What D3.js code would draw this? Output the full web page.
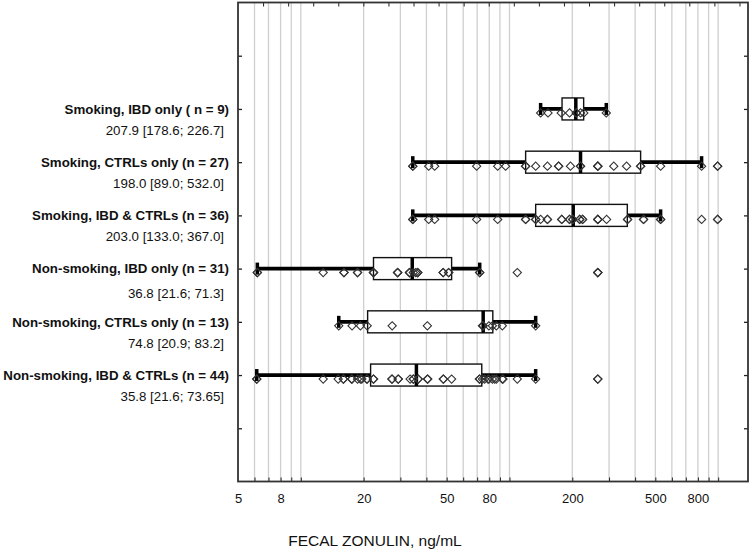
<!DOCTYPE html>
<html>
<head>
<meta charset="utf-8">
<script src="https://cdn.jsdelivr.net/npm/d3@7/dist/d3.min.js"></script>
<style>
    body { margin: 0; background: #fff; }
    .zonulin_chart { width: 750px; height: 549px; }
    text { font-family: "Liberation Sans", Arial, sans-serif; }
</style>
</head>
<body>
<div class="zonulin_chart"></div>
<script>
//<data>--------------------------------------//
var groupNames = [
    "Smoking, IBD only ( n = 9)",
    "Smoking, CTRLs only (n = 27)",
    "Smoking, IBD & CTRLs (n = 36)",
    "Non-smoking, IBD only (n = 31)",
    "Non-smoking, CTRLs only (n = 13)",
    "Non-smoking, IBD & CTRLs (n = 44)"
];
var groupStats = [
    "207.9 [178.6; 226.7]",
    "198.0 [89.0; 532.0]",
    "203.0 [133.0; 367.0]",
    "36.8 [21.6; 71.3]",
    "74.8 [20.9; 83.2]",
    "35.8 [21.6; 73.65]"
];
var whiskerLow = [141, 34.4, 34.4, 6.19, 15.2, 6.15];
var boxQ1 = [178.6, 119.5, 133.5, 22.3, 20.9, 21.6];
var boxMedian = [207.9, 219, 202, 34.2, 74.8, 35.8];
var boxQ3 = [226.7, 425, 367, 52.8, 83.2, 73.65];
var whiskerHigh = [291, 833, 530, 72.0, 133.5, 133.5];

var pointsSmkIbd = [141, 153, 177, 194, 209, 209, 219, 227, 291];
var pointsSmkCtrl = [34.4, 34.4, 41.0, 43.8, 69.6, 87.8, 95.8, 119.5, 119.5, 133.5, 152, 172, 172, 196, 219, 219,
    265, 265, 265, 316, 364, 425, 425, 530, 833, 994, 994];
var pointsSmkAll = [34.4, 34.4, 41.0, 43.8, 69.6, 87.8, 119.5, 119.5, 133.5, 133.5, 141, 152, 152, 178, 178, 194, 194,
    201, 201, 217, 217, 224, 224, 265, 265, 265, 292, 368, 368, 439, 439, 530, 530, 833, 994, 994];
var pointsNonIbd = [6.19, 6.19, 12.8, 16.1, 16.1, 18.7, 18.7, 22.3, 22.3, 22.3, 29.1, 29.1, 29.1, 33.2, 33.2, 33.2,
    34.6, 35.5, 36.3, 36.3, 36.3, 48.1, 48.1, 51.1, 51.1, 72.0, 72.0, 109, 265, 265, 265];
var pointsNonCtrl = [15.2, 17.6, 19.3, 20.8, 27.4, 40.4, 74.2, 74.8, 79.7, 82.8, 86.5, 92.4, 133.5];
var pointsNonAll = [6.15, 6.15, 12.8, 15.1, 16.0, 16.0, 17.5, 17.6, 18.7, 19.3, 19.6, 20.7, 20.8, 22.3, 22.3, 27.3,
    27.4, 29.3, 29.3, 33.4, 34.6, 34.6, 36.5, 36.5, 40.4, 40.6, 48.2, 48.2, 52.8, 71.7, 72.0, 74.2, 76.0, 78.9,
    79.7, 82.8, 84.9, 86.5, 92.4, 93.1, 109, 133.5, 265, 265];
var groupPoints = [pointsSmkIbd, pointsSmkCtrl, pointsSmkAll, pointsNonIbd, pointsNonCtrl, pointsNonAll];

var gridValues = [6, 7, 8, 9, 10, 20, 30, 40, 50, 60, 70, 80, 90, 100, 200, 300, 400, 500, 600, 700, 800, 900, 1000];
var tickLabels = [5, 8, 20, 50, 80, 200, 500, 800];
var axisTitle = "FECAL ZONULIN, ng/mL";

//<layout>------------------------------------//
var getW = 750, getH = 549;
var plot = { left: 238, right: 748, top: 2.5, bottom: 481.5 };
var statsDy = [21, 21, 21, 25, 21, 21];

var x = d3.scaleLog().domain([5, 1390]).range([plot.left, plot.right]);
var y = d3.scaleLinear().domain([0, 9]).range([plot.top, plot.bottom]);
var topScale = d3.scaleLinear().domain([0, 20.34]).range([plot.left, plot.right]);

var svg = d3.select(".zonulin_chart").append("svg")
    .attr("width", getW).attr("height", getH);

//<grid>--------------------------------------//
svg.append("g").selectAll("line")
    .data(gridValues).enter().append("line")
    .attr("x1", d => x(d)).attr("x2", d => x(d))
    .attr("y1", plot.top).attr("y2", plot.bottom)
    .attr("stroke", "#cfcfcf").attr("stroke-width", 1.3);

//<boxes>-------------------------------------//
var rows = svg.append("g").selectAll("g")
    .data(groupNames).enter().append("g")
    .attr("transform", (d, i) => "translate(0," + y(i + 2) + ")");

rows.append("line")
    .attr("x1", (d, i) => x(whiskerLow[i])).attr("x2", (d, i) => x(whiskerHigh[i]))
    .attr("y1", 0).attr("y2", 0)
    .attr("stroke", "#000").attr("stroke-width", 3.8);
rows.append("line")
    .attr("x1", (d, i) => x(whiskerLow[i])).attr("x2", (d, i) => x(whiskerLow[i]))
    .attr("y1", -6).attr("y2", 6)
    .attr("stroke", "#000").attr("stroke-width", 3.5);
rows.append("line")
    .attr("x1", (d, i) => x(whiskerHigh[i])).attr("x2", (d, i) => x(whiskerHigh[i]))
    .attr("y1", -6).attr("y2", 6)
    .attr("stroke", "#000").attr("stroke-width", 3.5);
rows.append("rect")
    .attr("x", (d, i) => x(boxQ1[i]))
    .attr("width", (d, i) => x(boxQ3[i]) - x(boxQ1[i]))
    .attr("y", -11).attr("height", 22)
    .attr("fill", "#fff").attr("stroke", "#111").attr("stroke-width", 1.4);
rows.append("line")
    .attr("x1", (d, i) => x(boxMedian[i])).attr("x2", (d, i) => x(boxMedian[i]))
    .attr("y1", -11).attr("y2", 11)
    .attr("stroke", "#000").attr("stroke-width", 3.5);

//<points>------------------------------------//
var diamond = d3.symbol().type(d3.symbolSquare).size(34);
rows.each(function (d, i) {
    d3.select(this).selectAll("path.pt")
        .data(groupPoints[i]).enter().append("path")
        .attr("class", "pt")
        .attr("d", diamond)
        .attr("transform", v => "translate(" + x(v) + ",4) rotate(45)")
        .attr("fill", "none").attr("stroke", "#333").attr("stroke-width", 1.1);
});

//<labels>------------------------------------//
rows.append("text")
    .attr("x", 229).attr("y", 4.7)
    .attr("text-anchor", "end")
    .style("font-size", "13.3px").style("font-weight", "bold").attr("fill", "#111")
    .text(d => d);
rows.append("text")
    .attr("x", 224).attr("y", (d, i) => statsDy[i] + 4.7)
    .attr("text-anchor", "end")
    .style("font-size", "13.3px").attr("fill", "#111")
    .text((d, i) => groupStats[i]);

//<axes>--------------------------------------//
svg.append("g").attr("transform", "translate(0," + plot.bottom + ")")
    .call(d3.axisBottom(x).tickValues(gridValues).tickSize(-4).tickFormat(""))
    .call(g => g.select(".domain").remove())
    .selectAll("line").attr("stroke", "#222");
var xAxis = svg.append("g").attr("transform", "translate(0," + plot.bottom + ")")
    .call(d3.axisBottom(x).tickValues(tickLabels).tickSize(0).tickPadding(12).tickFormat(d3.format("d")));
xAxis.select(".domain").remove();
xAxis.selectAll("text").style("font-size", "13px").attr("fill", "#111")
    .style("font-family", "'Liberation Sans', Arial, sans-serif");

svg.append("g").attr("transform", "translate(0," + plot.top + ")")
    .call(d3.axisBottom(topScale).tickValues(d3.range(1, 21)).tickSize(4).tickFormat(""))
    .call(g => g.select(".domain").remove())
    .selectAll("line").attr("stroke", "#222");
svg.append("g").attr("transform", "translate(" + plot.left + ",0)")
    .call(d3.axisRight(y).tickValues(d3.range(1, 9)).tickSize(4).tickFormat(""))
    .call(g => g.select(".domain").remove())
    .selectAll("line").attr("stroke", "#222").attr("stroke-width", 1.3);
svg.append("g").attr("transform", "translate(" + plot.right + ",0)")
    .call(d3.axisLeft(y).tickValues(d3.range(1, 9)).tickSize(4).tickFormat(""))
    .call(g => g.select(".domain").remove())
    .selectAll("line").attr("stroke", "#222").attr("stroke-width", 1.3);

//<frame>-------------------------------------//
svg.append("rect")
    .attr("x", plot.left).attr("y", plot.top)
    .attr("width", plot.right - plot.left).attr("height", plot.bottom - plot.top)
    .attr("fill", "none").attr("stroke", "#333").attr("stroke-width", 1.8);

svg.append("text")
    .attr("x", 375).attr("y", 546)
    .attr("text-anchor", "middle")
    .style("font-size", "15.5px").attr("fill", "#111")
    .text(axisTitle);
</script>
</body>
</html>
